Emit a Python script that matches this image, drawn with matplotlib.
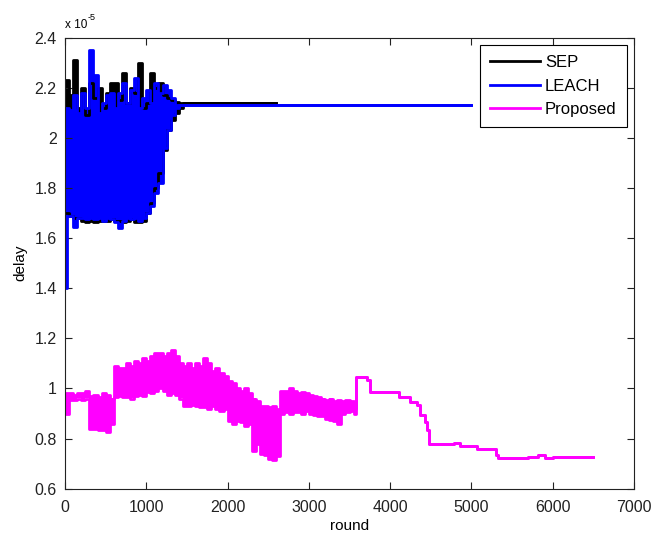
import numpy as np
import matplotlib
matplotlib.use('Agg')
import matplotlib.pyplot as plt
from matplotlib.ticker import FormatStrFormatter, MultipleLocator

plt.rcParams['font.family'] = ['Liberation Sans', 'DejaVu Sans']
plt.rcParams['font.size'] = 11

# delay values are in units of 1e-5 (as shown on the axis)
# SEP: upper / lower envelope of the oscillating delay, sampled every 50 rounds
sep_rounds = list(range(0, 1500, 50)) + [2600]
sep_upper = [2.23, 2.17, 2.31, 2.12, 2.20, 2.09, 2.22, 2.16, 2.20, 2.12,
             2.18, 2.22, 2.22, 2.15, 2.26, 2.14, 2.20, 2.18, 2.30, 2.12,
             2.14, 2.26, 2.20, 2.22, 2.17, 2.16, 2.15, 2.145, 2.14, 2.14, 2.14]
sep_lower = [1.70, 1.69, 1.68, 1.68, 1.67, 1.665, 1.67, 1.665, 1.67, 1.67,
             1.67, 1.675, 1.67, 1.67, 1.665, 1.67, 1.675, 1.665, 1.665, 1.67,
             1.70, 1.74, 1.80, 1.86, 1.95, 2.03, 2.07, 2.10, 2.12, 2.14, 2.14]

# LEACH (first sample dips to 1.4)
leach_rounds = [0, 20] + list(range(50, 1500, 50)) + [5000]
leach_upper = [2.12, 2.12, 2.11, 2.17, 2.10, 2.18, 2.12, 2.35, 2.25, 2.10, 2.14,
               2.17, 2.18, 2.12, 2.18, 2.22, 2.14, 2.19, 2.24, 2.12, 2.16,
               2.19, 2.14, 2.22, 2.18, 2.21, 2.19, 2.16, 2.13, 2.13, 2.13, 2.13]
leach_lower = [1.40, 1.69, 1.69, 1.645, 1.68, 1.68, 1.675, 1.68, 1.675, 1.68, 1.67,
               1.68, 1.675, 1.665, 1.64, 1.67, 1.68, 1.675, 1.68, 1.67, 1.68,
               1.70, 1.73, 1.78, 1.82, 1.96, 2.03, 2.09, 2.12, 2.13, 2.13, 2.13]

# Proposed: noisy part every 50 rounds, then the stepped tail
prop_rounds = list(range(0, 3600, 50)) + [
    3580, 3720, 3750, 4110, 4240, 4330, 4370, 4430, 4450, 4480,
    4780, 4860, 5070, 5300, 5330, 5700, 5820, 5910, 6000, 6500]
prop_upper = [0.98, 0.98, 0.975, 0.98, 0.98, 0.99, 0.97, 0.975, 0.965, 0.98,
              0.975, 0.96, 1.09, 1.08, 1.08, 1.10, 1.09, 1.11, 1.10, 1.12,
              1.11, 1.13, 1.14, 1.14, 1.13, 1.14, 1.155, 1.13, 1.10, 1.09,
              1.10, 1.08, 1.10, 1.09, 1.12, 1.10, 1.07, 1.08, 1.06, 1.05,
              1.03, 1.02, 1.00, 0.99, 1.00, 0.98, 0.96, 0.95, 0.93, 0.93,
              0.925, 0.93, 0.92, 0.99, 0.99, 1.00, 0.99, 0.98, 0.985, 0.98,
              0.975, 0.97, 0.965, 0.96, 0.955, 0.96, 0.95, 0.955, 0.95, 0.955,
              0.95, 0.92,
              1.045, 1.035, 0.985, 0.967, 0.947, 0.934, 0.895, 0.868, 0.836, 0.779,
              0.783, 0.770, 0.757, 0.733, 0.724, 0.728, 0.734, 0.724, 0.728, 0.728]
prop_lower = [0.90, 0.955, 0.955, 0.96, 0.955, 0.96, 0.84, 0.84, 0.835, 0.835,
              0.825, 0.86, 0.965, 0.97, 0.965, 0.965, 0.96, 0.97, 0.975, 0.97,
              0.985, 0.98, 0.99, 1.00, 0.99, 0.975, 0.98, 0.975, 0.96, 0.93,
              0.93, 0.935, 0.93, 0.925, 0.925, 0.92, 0.93, 0.92, 0.91, 0.92,
              0.87, 0.86, 0.87, 0.865, 0.85, 0.86, 0.75, 0.78, 0.74, 0.735,
              0.72, 0.715, 0.73, 0.90, 0.905, 0.90, 0.905, 0.905, 0.90, 0.91,
              0.90, 0.895, 0.89, 0.89, 0.88, 0.875, 0.87, 0.86, 0.90, 0.905,
              0.91, 0.90,
              1.045, 1.035, 0.985, 0.967, 0.947, 0.934, 0.895, 0.868, 0.836, 0.779,
              0.783, 0.770, 0.757, 0.733, 0.724, 0.728, 0.734, 0.724, 0.728, 0.728]

labels = ['SEP', 'LEACH', 'Proposed']
colors = ['k', 'b', '#ff00ff']

fig = plt.figure(figsize=(6.52, 5.33), dpi=100)
ax = fig.add_axes([65/652., 1-488.7/533., (634-65)/652., (488.7-37.7)/533.])


def band(rounds, upper, lower, color, label):
    ax.fill_between(rounds, lower, upper, step='post', color=color, lw=0)
    ax.plot(rounds, upper, color=color, lw=2, drawstyle='steps-post', label=label)
    ax.plot(rounds, lower, color=color, lw=2, drawstyle='steps-post')


band(sep_rounds, sep_upper, sep_lower, colors[0], labels[0])
band(leach_rounds, leach_upper, leach_lower, colors[1], labels[1])
band(prop_rounds, prop_upper, prop_lower, colors[2], labels[2])

ax.set_xlim(0, 7000)
ax.set_ylim(0.6, 2.4)
ax.xaxis.set_major_locator(MultipleLocator(1000))
ax.yaxis.set_major_locator(MultipleLocator(0.2))
ax.yaxis.set_major_formatter(FormatStrFormatter('%g'))
ax.tick_params(direction='in', top=True, right=True, length=5, width=0.8,
               labelsize=11.5, colors='#222222')
ax.tick_params(axis='x', pad=8)
ax.tick_params(axis='y', pad=6)
for s in ax.spines.values():
    s.set_color('#222222')
    s.set_linewidth(0.8)

ax.set_xlabel('round', fontsize=11, labelpad=3)
ax.set_ylabel('delay', fontsize=11, labelpad=5)

fig.text(65/652., 1-28/533., 'x 10', fontsize=8.5, va='baseline', ha='left')
fig.text(88/652., 1-20/533., '-5', fontsize=6.5, va='baseline', ha='left')

leg = ax.legend(loc='upper right', fancybox=False, edgecolor='k', framealpha=1,
                handlelength=3.0, handletextpad=0.3, labelspacing=0.5,
                borderpad=0.6, borderaxespad=0.45, fontsize=12)
leg.get_frame().set_linewidth(0.8)

plt.savefig('out.png', dpi=100)
